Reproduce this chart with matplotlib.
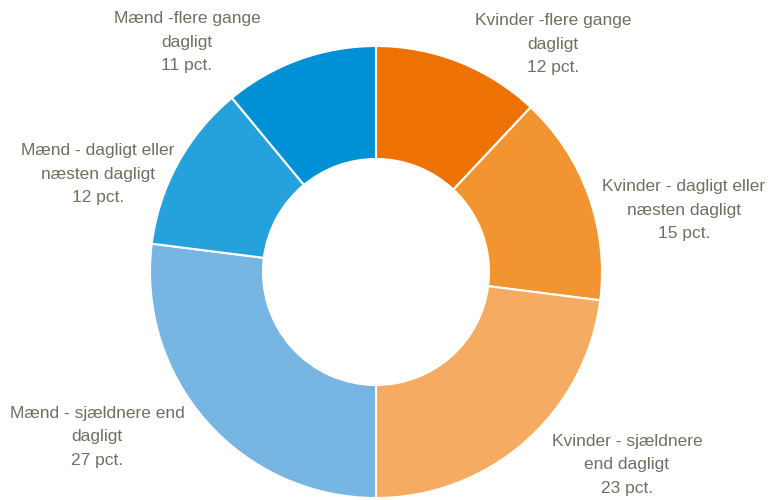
import matplotlib

matplotlib.use("Agg")

import matplotlib.pyplot as plt

labels = [
    "Kvinder -flere gange\ndagligt",
    "Kvinder - dagligt eller\nnæsten dagligt",
    "Kvinder - sjældnere\nend dagligt",
    "Mænd - sjældnere end\ndagligt",
    "Mænd - dagligt eller\nnæsten dagligt",
    "Mænd -flere gange\ndagligt",
]
shares = [12, 15, 23, 27, 12, 11]
colors = ["#EE7203", "#F29531", "#F6AB62", "#77B5E3", "#25A1DC", "#0090D5"]

# label centres in pixel coordinates (y from top)
label_pos = [(553, 44), (684, 210), (627, 465), (97, 437), (98, 174), (187, 42)]

W, H = 768, 500
fig = plt.figure(figsize=(W / 100, H / 100), dpi=100)
ax = fig.add_axes([0, 0, 1, 1])

ax.pie(
    shares,
    colors=colors,
    center=(376, H - 272),
    radius=226,
    startangle=90,
    counterclock=False,
    wedgeprops=dict(width=113, edgecolor="white", linewidth=1.5),
    frame=True,
)
ax.set_xlim(0, W)
ax.set_ylim(0, H)
ax.set_aspect("equal")
ax.axis("off")

for text, share, (x, y) in zip(labels, shares, label_pos):
    ax.text(
        x, H - y, f"{text}\n{share} pct.",
        ha="center", va="center", fontsize=12.5, color="#6F6F62",
        family=["Liberation Sans", "DejaVu Sans"], linespacing=1.68,
    )

fig.savefig("out.png", dpi=100)
